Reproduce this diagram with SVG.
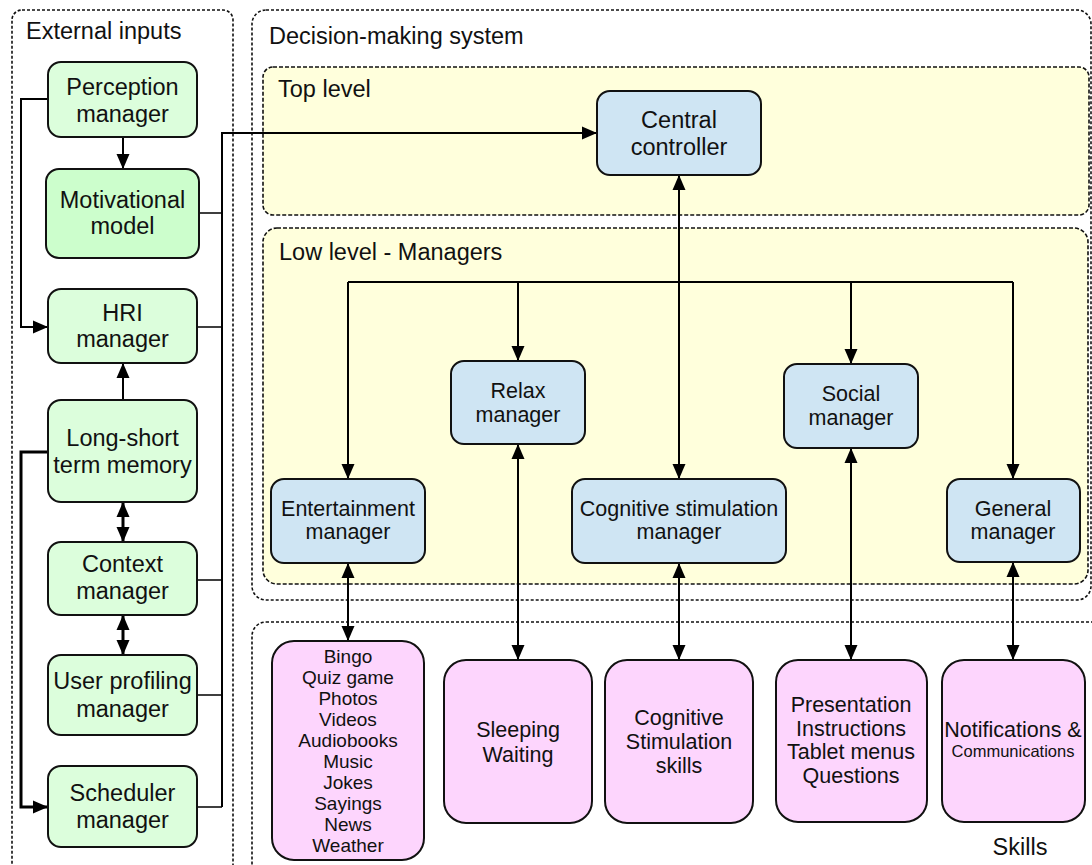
<svg xmlns="http://www.w3.org/2000/svg" width="1092" height="865" viewBox="0 0 1092 865">
<style>
text{font-family:"Liberation Sans",Arial,sans-serif;fill:#111;}
.lbl{font-size:23.5px;}
.g{font-size:23.5px;text-anchor:middle;}
.b{font-size:21.5px;text-anchor:middle;}
.s{font-size:21.5px;text-anchor:middle;}
.l{font-size:19px;text-anchor:middle;}
.outer{fill:none;stroke:#111;stroke-width:1.6;stroke-dasharray:3 2;}
.inner{fill:#ffffdc;stroke:#111;stroke-width:1.6;stroke-dasharray:4 2;}
.gn{fill:#dcfedc;stroke:#111;stroke-width:2;}
.gm{fill:#ccfecc;stroke:#111;stroke-width:2;}
.bn{fill:#cfe5f3;stroke:#111;stroke-width:2;}
.pn{fill:#fdd5fd;stroke:#111;stroke-width:2;}
.c{fill:none;stroke:#000;stroke-width:2;}
.ct{fill:none;stroke:#000;stroke-width:1.5;}
.ck{fill:none;stroke:#000;stroke-width:3;}
</style>
<defs>
<marker id="ah" markerUnits="userSpaceOnUse" markerWidth="15" markerHeight="14" viewBox="0 0 15 14" refX="15" refY="7" orient="auto-start-reverse">
<path d="M0,0.5 L15,7 L0,13.5 z" fill="#000"/>
</marker>
</defs>

<g id="containers">
<rect id="external-inputs" class="outer" x="12" y="10" width="221" height="880" rx="10"/>
<text class="lbl" x="26" y="39">External inputs</text>
<rect id="decision-making" class="outer" x="252" y="10" width="839" height="590" rx="14"/>
<text class="lbl" x="269" y="44">Decision-making system</text>
<rect id="top-level" class="inner" x="263" y="67" width="826" height="148" rx="10"/>
<text class="lbl" x="278" y="97">Top level</text>
<rect id="low-level" class="inner" x="263" y="228" width="825" height="356" rx="14"/>
<text class="lbl" x="279" y="260">Low level - Managers</text>
<rect id="skills-area" class="outer" x="252" y="622" width="860" height="270" rx="14"/>
<text class="lbl" x="1020" y="855" text-anchor="middle">Skills</text>
</g>

<g id="connectors">
<line class="c" x1="123" y1="137" x2="123" y2="169" marker-end="url(#ah)"/>
<path class="c" d="M48,99 H21 V327 H48" marker-end="url(#ah)"/>
<path class="ck" d="M48,452 H21 V807 H48" marker-end="url(#ah)"/>
<line class="c" x1="123" y1="400" x2="123" y2="363" marker-end="url(#ah)"/>
<line class="ck" x1="123" y1="502" x2="123" y2="542" marker-start="url(#ah)" marker-end="url(#ah)"/>
<line class="ck" x1="123" y1="615" x2="123" y2="655" marker-start="url(#ah)" marker-end="url(#ah)"/>
<path class="ct" d="M199,213 H222 M197,327 H222 M197,580 H222 M197,695 H222 M197,807 H222"/>
<path class="c" d="M222,807 V133 H597" marker-end="url(#ah)"/>
<line class="c" x1="679" y1="282" x2="679" y2="175" marker-end="url(#ah)"/>
<line class="c" x1="679" y1="282" x2="679" y2="479" marker-end="url(#ah)"/>
<line class="c" x1="348" y1="282" x2="1013" y2="282"/>
<line class="c" x1="348" y1="282" x2="348" y2="479" marker-end="url(#ah)"/>
<line class="c" x1="518" y1="282" x2="518" y2="361" marker-end="url(#ah)"/>
<line class="c" x1="851" y1="282" x2="851" y2="364" marker-end="url(#ah)"/>
<line class="c" x1="1013" y1="282" x2="1013" y2="479" marker-end="url(#ah)"/>
<line class="c" x1="348" y1="563" x2="348" y2="641" marker-start="url(#ah)" marker-end="url(#ah)"/>
<line class="c" x1="518" y1="444" x2="518" y2="660" marker-start="url(#ah)" marker-end="url(#ah)"/>
<line class="c" x1="679" y1="563" x2="679" y2="660" marker-start="url(#ah)" marker-end="url(#ah)"/>
<line class="c" x1="851" y1="448" x2="851" y2="660" marker-start="url(#ah)" marker-end="url(#ah)"/>
<line class="c" x1="1013" y1="562" x2="1013" y2="660" marker-start="url(#ah)" marker-end="url(#ah)"/>
</g>

<g id="perception-manager">
<rect class="gn" x="48" y="62" width="149" height="75" rx="13"/>
<text class="g" x="122.5" y="95">Perception</text>
<text class="g" x="122.5" y="122">manager</text>
</g>
<g id="motivational-model">
<rect class="gm" x="46" y="169" width="153" height="89" rx="13"/>
<text class="g" x="122.5" y="208">Motivational</text>
<text class="g" x="122.5" y="234">model</text>
</g>
<g id="hri-manager">
<rect class="gn" x="48" y="289" width="149" height="74" rx="13"/>
<text class="g" x="122.5" y="321">HRI</text>
<text class="g" x="122.5" y="347">manager</text>
</g>
<g id="long-short-term-memory">
<rect class="gn" x="48" y="400" width="149" height="102" rx="13"/>
<text class="g" x="122.5" y="446">Long-short</text>
<text class="g" x="122.5" y="473">term memory</text>
</g>
<g id="context-manager">
<rect class="gn" x="48" y="542" width="149" height="73" rx="13"/>
<text class="g" x="122.5" y="572">Context</text>
<text class="g" x="122.5" y="599">manager</text>
</g>
<g id="user-profiling-manager">
<rect class="gn" x="48" y="655" width="149" height="80" rx="13"/>
<text class="g" x="122.5" y="689">User profiling</text>
<text class="g" x="122.5" y="717">manager</text>
</g>
<g id="scheduler-manager">
<rect class="gn" x="48" y="766" width="149" height="81" rx="13"/>
<text class="g" x="122.5" y="801">Scheduler</text>
<text class="g" x="122.5" y="828">manager</text>
</g>

<g id="central-controller">
<rect class="bn" x="597" y="91" width="164" height="84" rx="13"/>
<text class="g" x="679" y="128">Central</text>
<text class="g" x="679" y="155">controller</text>
</g>
<g id="relax-manager">
<rect class="bn" x="451" y="361" width="134" height="83" rx="13"/>
<text class="b" x="518" y="398">Relax</text>
<text class="b" x="518" y="422">manager</text>
</g>
<g id="social-manager">
<rect class="bn" x="784" y="364" width="134" height="84" rx="13"/>
<text class="b" x="851" y="401">Social</text>
<text class="b" x="851" y="425">manager</text>
</g>
<g id="entertainment-manager">
<rect class="bn" x="271" y="479" width="154" height="84" rx="13"/>
<text class="b" x="348" y="516">Entertainment</text>
<text class="b" x="348" y="539">manager</text>
</g>
<g id="cognitive-stimulation-manager">
<rect class="bn" x="572" y="479" width="214" height="84" rx="13"/>
<text class="b" x="679" y="516">Cognitive stimulation</text>
<text class="b" x="679" y="539">manager</text>
</g>
<g id="general-manager">
<rect class="bn" x="947" y="479" width="133" height="83" rx="13"/>
<text class="b" x="1013" y="516">General</text>
<text class="b" x="1013" y="539">manager</text>
</g>

<g id="entertainment-skills">
<rect class="pn" x="272" y="641" width="152" height="219" rx="22"/>
<text class="l" x="348" y="663">Bingo</text>
<text class="l" x="348" y="684">Quiz game</text>
<text class="l" x="348" y="705">Photos</text>
<text class="l" x="348" y="726">Videos</text>
<text class="l" x="348" y="747">Audiobooks</text>
<text class="l" x="348" y="768">Music</text>
<text class="l" x="348" y="789">Jokes</text>
<text class="l" x="348" y="810">Sayings</text>
<text class="l" x="348" y="831">News</text>
<text class="l" x="348" y="852">Weather</text>
</g>
<g id="relax-skills">
<rect class="pn" x="444" y="660" width="148" height="163" rx="22"/>
<text class="s" x="518" y="737">Sleeping</text>
<text class="s" x="518" y="762">Waiting</text>
</g>
<g id="cognitive-skills">
<rect class="pn" x="605" y="660" width="148" height="163" rx="22"/>
<text class="s" x="679" y="725">Cognitive</text>
<text class="s" x="679" y="749">Stimulation</text>
<text class="s" x="679" y="773">skills</text>
</g>
<g id="social-skills">
<rect class="pn" x="776" y="660" width="151" height="162" rx="22"/>
<text class="s" x="851" y="712">Presentation</text>
<text class="s" x="851" y="736">Instructions</text>
<text class="s" x="851" y="759">Tablet menus</text>
<text class="s" x="851" y="783">Questions</text>
</g>
<g id="general-skills">
<rect class="pn" x="942" y="660" width="143" height="162" rx="22"/>
<text class="s" x="1013" y="737">Notifications &amp;</text>
<text x="1013" y="757" font-size="16.5" text-anchor="middle">Communications</text>
</g>
</svg>
